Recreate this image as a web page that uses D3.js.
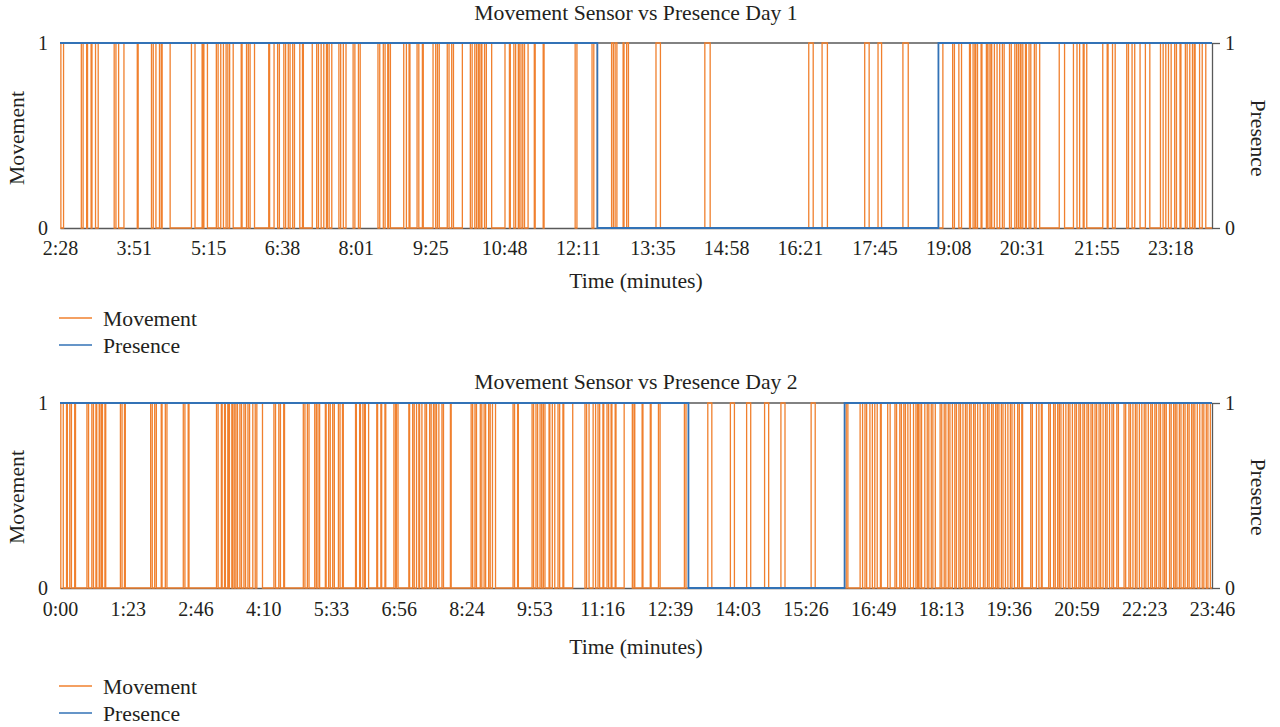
<!DOCTYPE html>
<html><head><meta charset="utf-8">
<script src="https://cdn.jsdelivr.net/npm/d3@7"></script>
<style>
body{margin:0;background:#fff}
svg text{font-family:"Liberation Serif","Times New Roman",serif;fill:#231f20}
</style></head><body>
<svg id="chart" width="1280" height="727"></svg>
<script>
// ---------------- DATA ----------------
// Day 1
const day1Title = "Movement Sensor vs Presence Day 1";
const day1TickLabels = ["2:28","3:51","5:15","6:38","8:01","9:25","10:48","12:11","13:35","14:58","16:21","17:45","19:08","20:31","21:55","23:18"];
const day1Span = [148, 1445]; // minutes covered by the axis
// movement = 1 intervals, [start, end] in minutes
const day1MovementOn = [[148,149],[152,172],[174,178],[179,183],[184,188],[191,209],[211,214],[220,235],[236,251],[253,256],[260,262],[263,272],[296,300],[308,309],[310,314],[324,326],[329,332],[335,337],[339,343],[352,353],[358,360],[362,367],[383,384],[389,393],[395,400],[402,405],[407,410],[412,418],[421,422],[432,437],[439,442],[445,448],[449,451],[454,462],[464,467],[470,478],[480,484],[486,506],[508,512],[514,517],[518,520],[535,538],[541,542],[550,552],[556,557],[568,571],[573,575],[584,586],[589,591],[601,610],[612,615],[617,619],[620,622],[623,626],[628,634],[649,654],[655,659],[661,664],[665,667],[669,671],[675,682],[683,692],[693,728],[730,747],[749,753],[769,771],[773,775],[782,783],[786,788],[819,824],[874,880],[991,996],[1006,1012],[1054,1059],[1069,1073],[1097,1103],[1142,1153],[1155,1160],[1163,1172],[1173,1176],[1178,1179],[1181,1185],[1186,1191],[1192,1194],[1196,1197],[1200,1203],[1206,1209],[1211,1217],[1219,1223],[1225,1227],[1229,1230],[1232,1235],[1236,1239],[1241,1245],[1247,1251],[1273,1279],[1289,1293],[1296,1300],[1301,1304],[1322,1327],[1328,1333],[1336,1349],[1351,1355],[1358,1364],[1370,1375],[1387,1390],[1393,1396],[1399,1403],[1405,1409],[1410,1415],[1417,1420],[1423,1425],[1426,1431],[1434,1438]];
const day1PresenceOn = [[148,753],[1137,1445]];

// Day 2
const day2Title = "Movement Sensor vs Presence Day 2";
const day2TickLabels = ["0:00","1:23","2:46","4:10","5:33","6:56","8:24","9:53","11:16","12:39","14:03","15:26","16:49","18:13","19:36","20:59","22:23","23:46"];
const day2MovementOn = [[1,4],[8,9],[12,14],[18,19],[33,35],[39,41],[44,45],[48,49],[51,52],[55,56],[74,76],[79,80],[111,113],[116,118],[124,125],[129,131],[151,153],[157,158],[192,194],[198,199],[202,203],[206,207],[208,211],[212,214],[216,218],[221,223],[226,228],[231,233],[237,240],[242,249],[263,265],[269,271],[275,276],[299,301],[304,306],[313,315],[317,319],[326,327],[330,332],[335,337],[342,344],[347,348],
 [363,364],[368,369],[372,374],[375,379],[389,390],[394,395],[399,400],[410,412],[413,415],[429,430],[434,436],[439,442],[443,446],[450,452],[456,458],[461,463],[465,468],[472,474],[483,484],[510,512],[515,517],[522,524],[527,529],[533,535],[538,542],[565,567],[571,572],[590,592],[595,597],[600,602],[604,606],[611,612],[615,618],[622,624],[628,629],[640,655],[657,660],[665,668],[671,673],[677,678],[682,684],[687,688],[692,693],[703,713],[715,716],[725,726],[735,736],[745,747],[777,779],
 [806,811],[834,839],[854,859],[876,881],[896,901],[933,938],
 [976,978],[993,996],[999,1001],[1005,1008],[1011,1014],[1018,1019],[1027,1030],[1036,1038],[1042,1044],[1047,1049],[1052,1055],[1059,1062],[1064,1065],[1067,1069],[1073,1076],[1078,1081],[1083,1086],
 [1092,1094],[1097,1099],[1102,1104],[1107,1110],[1112,1115],[1117,1120],[1123,1125],[1128,1130],[1133,1135],[1138,1141],[1145,1147],[1150,1152],[1155,1157],[1160,1162],[1164,1167],[1169,1172],[1175,1178],[1180,1183],[1187,1189],[1192,1193],[1203,1205],[1210,1213],[1216,1217],[1225,1227],[1231,1233],[1236,1238],[1240,1243],[1246,1249],[1251,1254],[1257,1259],[1262,1264],[1267,1269],[1272,1274],[1277,1279],[1282,1284],[1287,1289],[1292,1295],[1297,1300],[1303,1305],[1309,1311],[1318,1320],[1324,1326],[1329,1332],[1334,1337],[1340,1343],[1345,1348],[1351,1353],[1356,1358],[1361,1363],[1366,1368],[1370,1374],[1376,1379],[1381,1383],[1386,1388],[1391,1393],[1396,1398],[1401,1403],[1405,1408],[1411,1414],[1416,1419],[1421,1424]];
const day2PresenceOn = [[0,782],[974,1426]];

const seriesNames = ["Movement","Presence"];
const yTickLabels = ["0","1"];
const xTitle = "Time (minutes)";

// ---------------- RENDER ----------------
const COL_MOVE = "#f0802e", COL_PRES = "#3272b6", COL_AX = "#595959";
const FS_TEXT = "21.7px", FS_TICK = "20px";
const toMin = s => { const [h, m] = s.split(":").map(Number); return h * 60 + m; };
const svg = d3.select("#chart");
const L = 60, R = 1212;

function stepData(on, t0, t1) {
  const pts = [];
  const v0 = (on.length && on[0][0] <= t0) ? 1 : 0;
  pts.push([t0, v0]);
  on.forEach(([a, b]) => {
    if (a > t0) pts.push([a, 1]);
    if (b < t1) pts.push([b, 0]);
  });
  pts.push([t1, pts[pts.length - 1][1]]);
  return pts;
}

function panel(cfg) {
  const g = svg.append("g");
  const x = cfg.x;
  const y = d3.scaleLinear().domain([0, 1]).range([cfg.yBottom, cfg.yTop]);
  const [t0, t1] = cfg.span;

  // gridline at 1
  g.append("line").attr("x1", L).attr("x2", R).attr("y1", y(1)).attr("y2", y(1))
    .attr("stroke", COL_AX).attr("stroke-width", 1.3);

  // x axis
  const tickMins = cfg.tickLabels.map(toMin);
  const xa = g.append("g").attr("transform", `translate(0,${y(0)})`)
    .call(d3.axisBottom(x).tickValues(tickMins).tickFormat((d, i) => cfg.tickLabels[i])
      .tickSize(0).tickSizeOuter(0).tickPadding(cfg.tickPad));
  xa.attr("font-family", null).attr("font-size", null);
  xa.select(".domain").attr("stroke", COL_AX).attr("stroke-width", 1.5);
  xa.selectAll("text").style("font-size", FS_TICK);

  // left y axis
  const ya = g.append("g").attr("transform", `translate(${L},0)`)
    .call(d3.axisLeft(y).tickValues([0, 1]).tickFormat((d, i) => yTickLabels[i]).tickSize(0).tickPadding(12));
  ya.attr("font-family", null).attr("font-size", null);
  ya.select(".domain").remove();
  ya.selectAll("text").style("font-size", FS_TICK);

  // right y axis
  const yr = g.append("g").attr("transform", `translate(${R},0)`)
    .call(d3.axisRight(y).tickValues([0, 1]).tickFormat((d, i) => yTickLabels[i]).tickSize(8).tickSizeOuter(0).tickPadding(5));
  yr.attr("font-family", null).attr("font-size", null);
  yr.select(".domain").attr("stroke", COL_AX).attr("stroke-width", 1.3);
  yr.selectAll("line").attr("stroke", COL_AX).attr("stroke-width", 1.3);
  yr.selectAll("text").style("font-size", FS_TICK);

  const line = d3.line().x(d => x(d[0])).y(d => y(d[1])).curve(d3.curveStepAfter);

  g.append("path").datum(stepData(cfg.movement, t0, t1))
    .attr("d", line).attr("fill", "none").attr("stroke", COL_MOVE).attr("stroke-width", 1.3);
  g.append("path").datum(stepData(cfg.presence, t0, t1))
    .attr("d", line).attr("fill", "none").attr("stroke", COL_PRES).attr("stroke-width", 1.8);

  // title
  g.append("text").attr("x", (L + R) / 2).attr("y", cfg.titleY).attr("text-anchor", "middle")
    .style("font-size", FS_TEXT).text(cfg.title);
  // axis titles
  g.append("text").attr("x", (L + R) / 2).attr("y", cfg.xTitleY).attr("text-anchor", "middle")
    .style("font-size", FS_TEXT).text(xTitle);
  g.append("text").attr("transform", `translate(24,${cfg.yMid}) rotate(-90)`).attr("text-anchor", "middle")
    .style("font-size", FS_TEXT).text(seriesNames[0]);
  g.append("text").attr("transform", `translate(1251,${cfg.yMid}) rotate(90)`).attr("text-anchor", "middle")
    .style("font-size", FS_TEXT).text(seriesNames[1]);

  // legend
  const cols = [COL_MOVE, COL_PRES];
  seriesNames.forEach((n, i) => {
    const ly = cfg.legendY + i * 27;
    g.append("line").attr("x1", 59).attr("x2", 92).attr("y1", ly).attr("y2", ly)
      .attr("stroke", cols[i]).attr("stroke-width", 1.5);
    g.append("text").attr("x", 103).attr("y", ly + 7.5).style("font-size", FS_TEXT).text(n);
  });
}

// Day 1: linear time scale
const x1 = d3.scaleLinear().domain(day1Span).range([L, R]);
// Day 2: category-like axis, labels evenly spaced
const d2Mins = day2TickLabels.map(toMin);
const x2 = d3.scaleLinear().domain(d2Mins)
  .range(d2Mins.map((d, i) => L + i * (R - L) / (d2Mins.length - 1)));

panel({ x: x1, span: day1Span, yTop: 43, yBottom: 228, tickLabels: day1TickLabels, tickPad: 13,
  movement: day1MovementOn, presence: day1PresenceOn, title: day1Title,
  titleY: 20, xTitleY: 288, yMid: 138, legendY: 318 });
panel({ x: x2, span: [d2Mins[0], d2Mins[d2Mins.length - 1]], yTop: 403, yBottom: 588, tickLabels: day2TickLabels, tickPad: 14,
  movement: day2MovementOn, presence: day2PresenceOn, title: day2Title,
  titleY: 389, xTitleY: 654, yMid: 497, legendY: 686 });
</script>
</body></html>
